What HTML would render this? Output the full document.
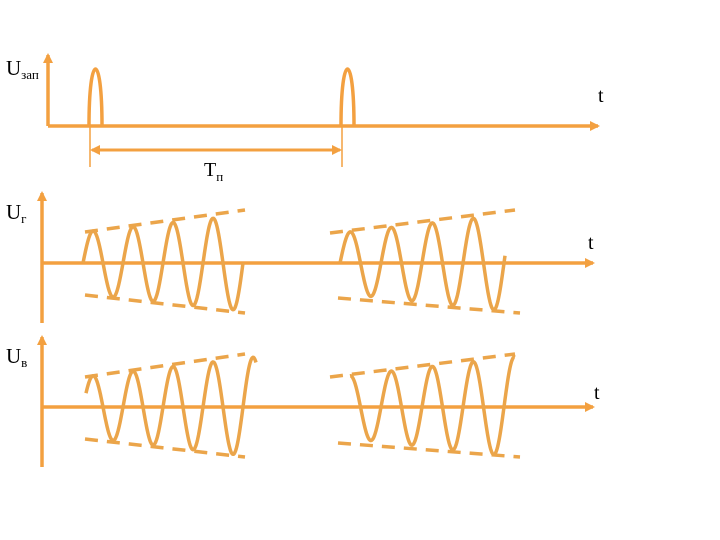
<!DOCTYPE html>
<html><head><meta charset="utf-8"><style>
html,body{margin:0;padding:0;background:#fff;}
svg{display:block}
text{font-family:"Liberation Serif",serif;fill:#000}
</style></head><body>
<svg id="s" width="720" height="540" viewBox="0 0 720 540" xmlns="http://www.w3.org/2000/svg">
<defs>
<marker id="a" markerWidth="10" markerHeight="10" refX="8" refY="5" orient="auto" markerUnits="userSpaceOnUse"><path d="M0,0 L10,5 L0,10 z" fill="#f3a040"/></marker>
<marker id="b" markerWidth="10" markerHeight="10" refX="2" refY="5" orient="auto" markerUnits="userSpaceOnUse"><path d="M10,0 L0,5 L10,10 z" fill="#f3a040"/></marker>
</defs>
<g stroke="#f3a040" stroke-width="3.5" fill="none">
<line x1="48" y1="126" x2="48" y2="55" marker-end="url(#a)"/>
<line x1="48" y1="126" x2="598" y2="126" marker-end="url(#a)"/>
<line x1="42" y1="323" x2="42" y2="193" marker-end="url(#a)"/>
<line x1="42" y1="263" x2="593" y2="263" marker-end="url(#a)"/>
<line x1="42" y1="467" x2="42" y2="337" marker-end="url(#a)"/>
<line x1="42" y1="407" x2="593" y2="407" marker-end="url(#a)"/>
<path d="M89,126 C89,50 102,50 102,126"/>
<path d="M341,126 C341,50 354,50 354,126"/>
</g>
<g stroke="#f3a040" stroke-width="1.5">
<line x1="90" y1="126" x2="90" y2="167"/>
<line x1="342" y1="126" x2="342" y2="167"/>
</g>
<line x1="92" y1="150" x2="340" y2="150" stroke="#f3a040" stroke-width="3" marker-end="url(#a)" marker-start="url(#b)"/>
<g id="w" stroke="#eba54a" stroke-width="3.5" fill="none"></g>
<g stroke="#eba54a" stroke-width="3.5" stroke-dasharray="13,9" fill="none">
<line x1="85" y1="232" x2="245" y2="210"/>
<line x1="85" y1="295" x2="245" y2="313"/>
<line x1="330" y1="233" x2="515" y2="210"/>
<line x1="338" y1="298" x2="520" y2="313"/>
<line x1="85" y1="377" x2="245" y2="354"/>
<line x1="85" y1="439" x2="245" y2="457"/>
<line x1="330" y1="377" x2="515" y2="354"/>
<line x1="338" y1="443" x2="520" y2="457"/>
</g>
<text x="6" y="75" font-size="21">U<tspan font-size="13" dy="4">зап</tspan></text>
<text x="598" y="102" font-size="20">t</text>
<text x="204" y="176" font-size="20">T<tspan font-size="13" dy="5">п</tspan></text>
<text x="6" y="219" font-size="21">U<tspan font-size="13" dy="4">г</tspan></text>
<text x="588" y="249" font-size="20">t</text>
<text x="6" y="363" font-size="21">U<tspan font-size="13" dy="4">в</tspan></text>
<text x="594" y="399" font-size="20">t</text>
</svg>
<script>
var g=document.getElementById('w');
function wave(x0,x1,phaseX,per,yc,a0,a1,ex0,ex1){
 var d='';
 for(var x=x0;x<=x1;x+=0.5){
  var f=(x-ex0)/(ex1-ex0);var A=a0+(a1-a0)*f;
  var y=yc-A*Math.sin(2*Math.PI*(x-phaseX)/per);
  d+=(d?'L':'M')+x.toFixed(1)+','+y.toFixed(1);
 }
 var p=document.createElementNS('http://www.w3.org/2000/svg','path');p.setAttribute('d',d);g.appendChild(p);
}
wave(83,243,83,40,263,31,48,83,245);
wave(340,505,340,41,263,30,48,340,505);
wave(86,256,83,40,407,30,50,83,256);
wave(350,515,340,41,407,30,50,340,515);
</script>
</body></html>
